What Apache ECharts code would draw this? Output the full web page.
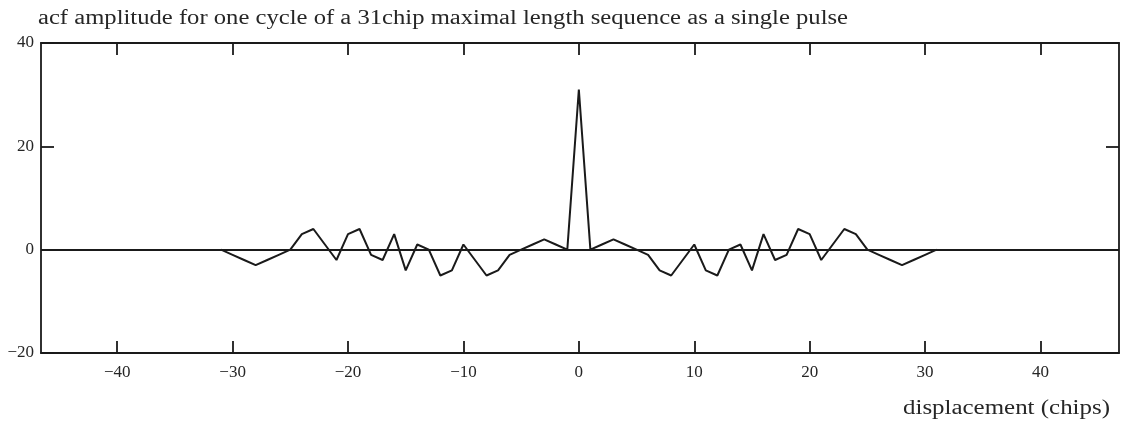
<!DOCTYPE html>
<html>
<head>
<meta charset="utf-8">
<script src="https://cdn.jsdelivr.net/npm/echarts@6/dist/echarts.min.js"></script>
<style>
  html, body { margin: 0; padding: 0; background: #fff; }
  #chart { width: 1126px; height: 422px; }
</style>
</head>
<body>
<div id="chart"></div>
<script>
// ---- data ----
const titleText = 'acf amplitude for one cycle of a 31chip maximal length sequence as a single pulse';
const xAxisName = 'displacement (chips)';
const lags = [-31,-30,-29,-28,-27,-26,-25,-24,-23,-22,-21,-20,-19,-18,-17,-16,-15,-14,-13,-12,-11,-10,-9,-8,-7,-6,-5,-4,-3,-2,-1,
  0,
  1,2,3,4,5,6,7,8,9,10,11,12,13,14,15,16,17,18,19,20,21,22,23,24,25,26,27,28,29,30,31];
const acf = [0,-1,-2,-3,-2,-1,0,3,4,1,-2,3,4,-1,-2,3,-4,1,0,-5,-4,1,-2,-5,-4,-1,0,1,2,1,0,
  31,
  0,1,2,1,0,-1,-4,-5,-2,1,-4,-5,0,1,-4,3,-2,-1,4,3,-2,1,4,3,0,-1,-2,-3,-2,-1,0];
const xTicks = [-40,-30,-20,-10,0,10,20,30,40];
const yTicks = [-20,0,20,40];

// ---- chart ----
const FONT = '"Liberation Serif", "Times New Roman", serif';
const INK = '#1a1a1a';
const TXT = '#262626';

function stretchFor(text, px, target) {
  const c = document.createElement('canvas').getContext('2d');
  c.font = px + 'px ' + FONT;
  return target / c.measureText(text).width;
}

const chart = echarts.init(document.getElementById('chart'));
const minusFmt = v => String(v).replace('-', '\u2212');

const grid = { left: 41, right: 7, top: 43, bottom: 69 };

const titleSize = 20;
const titleScale = stretchFor(titleText, titleSize, 810);
const nameScale = stretchFor(xAxisName, titleSize, 207);

const axisLineStyle = { color: INK, width: 1.8 };

chart.setOption({
  animation: false,
  backgroundColor: '#fff',
  grid: grid,
  xAxis: [
    {
      type: 'value', position: 'bottom', min: -46.6, max: 46.8,
      axisLine: { show: true, onZero: false, lineStyle: axisLineStyle },
      axisTick: { show: true, inside: true, length: 12, customValues: xTicks, lineStyle: axisLineStyle },
      axisLabel: { show: true, customValues: xTicks, margin: 11, formatter: minusFmt,
        fontFamily: FONT, fontSize: 17, color: TXT },
      splitLine: { show: false }
    },
    {
      type: 'value', position: 'top', min: -46.6, max: 46.8,
      axisLine: { show: true, onZero: false, lineStyle: axisLineStyle },
      axisTick: { show: true, inside: true, length: 12, customValues: xTicks, lineStyle: axisLineStyle },
      axisLabel: { show: false },
      splitLine: { show: false }
    }
  ],
  yAxis: [
    {
      type: 'value', position: 'left', min: -20, max: 40, interval: 20,
      axisLine: { show: true, onZero: false, lineStyle: axisLineStyle },
      axisTick: { show: true, inside: true, length: 13, customValues: yTicks, lineStyle: axisLineStyle },
      axisLabel: { show: true, customValues: yTicks, margin: 7, formatter: minusFmt,
        fontFamily: FONT, fontSize: 17, color: TXT },
      splitLine: { show: false }
    },
    {
      type: 'value', position: 'right', min: -20, max: 40, interval: 20,
      axisLine: { show: true, onZero: false, lineStyle: axisLineStyle },
      axisTick: { show: true, inside: true, length: 13, customValues: yTicks, lineStyle: axisLineStyle },
      axisLabel: { show: false },
      splitLine: { show: false }
    }
  ],
  series: [
    {
      type: 'line',
      xAxisIndex: 0, yAxisIndex: 0,
      data: lags.map((l, i) => [l, acf[i]]),
      showSymbol: false,
      symbol: 'none',
      lineStyle: { color: INK, width: 2 },
      z: 3,
      markLine: {
        silent: true, symbol: 'none',
        label: { show: false },
        lineStyle: { color: INK, width: 2, type: 'solid' },
        data: [{ yAxis: 0 }]
      }
    }
  ],
  graphic: [
    {
      type: 'text', x: 38, y: 19, scaleX: titleScale, scaleY: 1,
      style: { text: titleText, font: titleSize + 'px ' + FONT, fill: TXT,
        textAlign: 'left', textVerticalAlign: 'middle' }
    },
    {
      type: 'text', x: 903, y: 409, scaleX: nameScale, scaleY: 1,
      style: { text: xAxisName, font: titleSize + 'px ' + FONT, fill: TXT,
        textAlign: 'left', textVerticalAlign: 'middle' }
    }
  ]
});
</script>
</body>
</html>
